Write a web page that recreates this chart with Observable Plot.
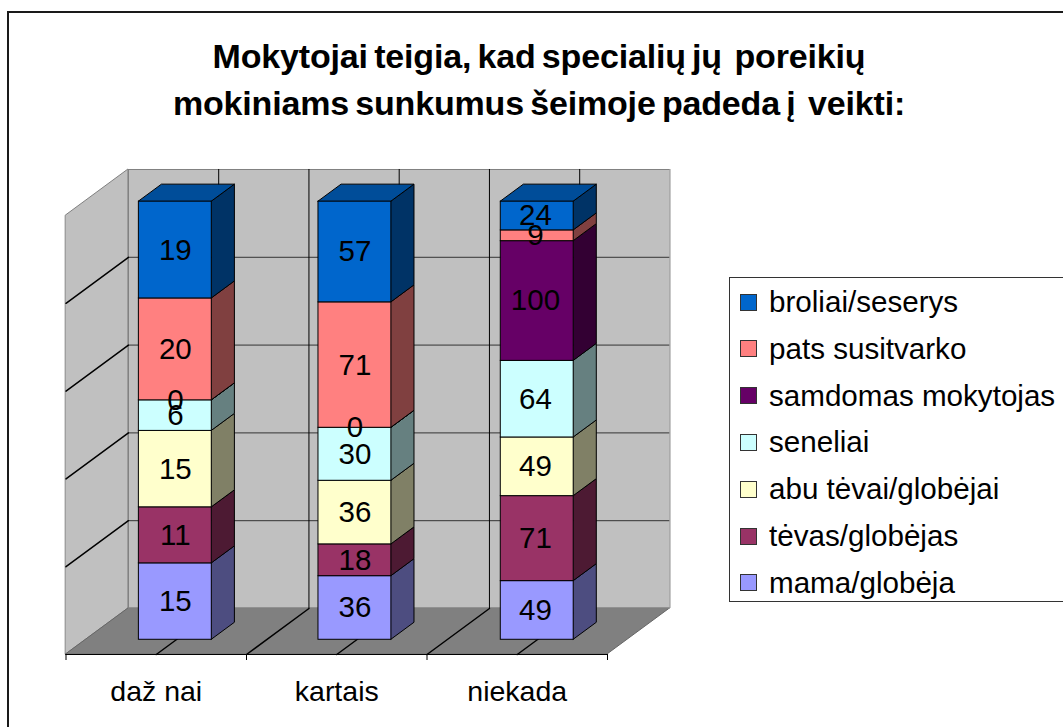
<!DOCTYPE html>
<html><head><meta charset="utf-8">
<script src="https://cdn.jsdelivr.net/npm/d3@7"></script>
<script src="https://cdn.jsdelivr.net/npm/@observablehq/plot@0.6"></script>
<style>
html,body{margin:0;padding:0;background:#fff;overflow:hidden}
#page{position:relative;width:1063px;height:727px;font-family:"Liberation Sans",Arial,sans-serif;color:#000;overflow:hidden}
#frame{position:absolute;left:7px;top:11px;width:1100px;height:800px;border:2px solid #1a1a1a;box-sizing:border-box}
#chart{position:absolute;left:0;top:0}
#chart svg{background:transparent}
#title{position:absolute;left:0;width:1078px;top:33px;text-align:center;font-weight:bold;font-size:34px;line-height:47px;letter-spacing:-0.17px;word-spacing:-3px;white-space:pre}
#legend{position:absolute;left:729px;top:277px;width:400px;height:325px;border:1.5px solid #333;box-sizing:border-box;background:#fff}
.row{position:absolute;left:10px;height:30px;display:flex;align-items:center;font-size:29.6px;white-space:pre}
.sw{width:17px;height:17px;border:1px solid #333;margin-right:12px;flex:none;box-sizing:border-box}
</style></head><body>
<div id="page">
<div id="frame"></div>
<div id="chart"></div>
<div id="title"></div>
<div id="legend"></div>
</div>
<script>
const titleLines = ["Mokytojai teigia, kad specialių jų  poreikių", "mokiniams sunkumus šeimoje padeda į  veikti:"];
const categories = ["daž nai", "kartais", "niekada"];
const seriesNames = ["mama/globėja", "tėvas/globėjas", "abu tėvai/globėjai", "seneliai", "samdomas mokytojas", "pats susitvarko", "broliai/seserys"];
const mama = [15, 36, 49];
const tevas = [11, 18, 71];
const abu = [15, 36, 49];
const seneliai = [6, 30, 64];
const samdomas = [0, 0, 100];
const pats = [20, 71, 9];
const broliai = [19, 57, 24];
const values = [mama, tevas, abu, seneliai, samdomas, pats, broliai];
const frontColors = ["#9999FF", "#993366", "#FFFFCC", "#CCFFFF", "#660066", "#FF8080", "#0066CC"];
const sideColors = ["#4D4D80", "#4D1A33", "#808066", "#668080", "#330033", "#804040", "#003366"];
const topColor = "#004D99";
const gridLevels = [0, 20, 40, 60, 80, 100];
const boundaries = [0, 1, 2, 3];

// oblique projection: depth 0 is the front floor edge, depth 1 the back wall
const shiftX = 0.346, shiftY = 10.48;
const front = 0.32, back = 0.69, halfBar = 0.202;
const barCenters = [0.495, 1.49, 2.5];
const labelCenters = [0.495, 1.49, 2.49];
const barScale = 0.998;
const px = (c, d) => c + d * shiftX;
const py = (p, d) => p + d * shiftY;

const segs = [];
categories.forEach((cat, i) => {
  const total = d3.sum(values, v => v[i]);
  let acc = 0;
  values.forEach((v, s) => {
    const lo = acc / total * 100 * barScale;
    acc += v[i];
    const hi = acc / total * 100 * barScale;
    segs.push({cat, i, s, v: v[i], lo, hi, left: barCenters[i] - halfBar, right: barCenters[i] + halfBar});
  });
});
const depthEnds = [0, 1];
const sideFaces = segs.flatMap(g => [front, back].map(d => ({
  key: g.i + "-" + g.s, x: px(g.right, d), y1: py(g.lo, d), y2: py(g.hi, d), fill: sideColors[g.s]
})));
const topFaces = categories.flatMap((c, i) => [front, back].map(d => ({
  key: i, y: py(100 * barScale, d), x1: px(barCenters[i] - halfBar, d), x2: px(barCenters[i] + halfBar, d)
})));
const floor = depthEnds.map(d => ({y: py(0, d), x1: px(0, d), x2: px(3, d)}));
const leftWall = depthEnds.map(d => ({x: px(0, d), y1: py(0, d), y2: py(100, d)}));
const gridLeft = gridLevels.flatMap(p => depthEnds.map(d => ({p, x: px(0, d), y: py(p, d)})));
const floorLines = [1, 2, 0.5, 1.5, 2.5].flatMap(c => depthEnds.map(d => ({c, x: px(c, d), y: py(0, d)})));
const gridCols = [0, 1, 2, 3, 0.5, 1.5, 2.5];

const plot = Plot.plot({
  width: 1063, height: 727,
  marginLeft: 65.5, marginRight: 456, marginTop: 215, marginBottom: 73,
  x: {domain: [0, 3], axis: null},
  y: {domain: [0, 100], axis: null},
  color: {type: "identity"},
  style: {background: "transparent", fontFamily: "'Liberation Sans', Arial, sans-serif"},
  marks: [
    Plot.rect([0], {x1: px(0, 1), x2: px(3, 1), y1: py(0, 1), y2: py(100, 1), fill: "#C0C0C0"}),
    Plot.area(leftWall, {x1: "x", y1: "y1", y2: "y2", fill: "#C0C0C0", stroke: "#808080"}),
    Plot.area(floor, {y1: "y", x1: "x1", x2: "x2", fill: "#808080", stroke: "#666"}),
    Plot.ruleY(gridLevels, {y: p => py(p, 1), x1: px(0, 1), x2: px(3, 1), stroke: p => (p === 0 || p === 100) ? "#808080" : "#333"}),
    Plot.ruleX(gridCols, {x: c => px(c, 1), y1: py(0, 1), y2: py(100, 1), stroke: c => (c === 0 || c === 3) ? "#808080" : "#000"}),
    Plot.line(gridLeft.filter(g => g.p > 0 && g.p < 100), {x: "x", y: "y", z: "p", stroke: "#000"}),
    Plot.line(floorLines, {x: "x", y: "y", z: "c", stroke: "#000"}),
    Plot.ruleY([0], {x1: 0, x2: 3, stroke: "#000"}),
    Plot.axisX({ticks: boundaries, tickFormat: () => "", tickSize: 6, stroke: "#000"}),
    Plot.area(sideFaces, {x1: "x", y1: "y1", y2: "y2", z: "key", fill: "fill", stroke: "#000", strokeWidth: 1}),
    Plot.area(topFaces, {y1: "y", x1: "x1", x2: "x2", z: "key", fill: topColor, stroke: "#000", strokeWidth: 1}),
    Plot.rect(segs, {
      x1: g => px(g.left, front), x2: g => px(g.right, front),
      y1: g => py(g.lo, front), y2: g => py(g.hi, front),
      fill: g => frontColors[g.s], stroke: "#000", strokeWidth: 1
    }),
    Plot.text(segs, {
      x: g => px(labelCenters[g.i], front), y: g => py((g.lo + g.hi) / 2, front),
      text: "v", fill: "#000", fontSize: 29.5
    }),
    Plot.text(categories, {x: (c, i) => i + 0.5, y: 0, dy: 37, text: c => c, fill: "#000", fontSize: 28.5})
  ]
});
document.getElementById("chart").append(plot);

document.getElementById("title").textContent = titleLines.join("\n");

const legend = document.getElementById("legend");
seriesNames.map((n, i) => i).reverse().forEach((s, row) => {
  const el = document.createElement("div");
  el.className = "row";
  el.style.top = (9 + row * 46.8) + "px";
  const sw = document.createElement("div");
  sw.className = "sw";
  sw.style.background = frontColors[s];
  el.append(sw, document.createTextNode(seriesNames[s]));
  legend.append(el);
});
</script>
</body></html>
